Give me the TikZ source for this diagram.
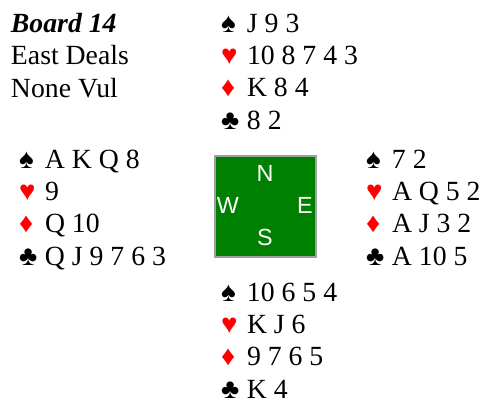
\documentclass[tikz,border=0pt]{standalone}
\usepackage{fontspec}
\setmainfont{Liberation Serif}
\setsansfont{Liberation Sans}
\definecolor{boardgreen}{RGB}{0,128,0}
\definecolor{boardedge}{RGB}{160,160,160}
\newcommand{\spd}{\makebox[19.5pt][l]{♠}}
\newcommand{\hrt}{\makebox[19.5pt][l]{\textcolor{red}{♥}}}
\newcommand{\dmd}{\makebox[19.5pt][l]{\textcolor{red}{♦}}}
\newcommand{\clb}{\makebox[19.5pt][l]{♣}}
\begin{document}
\begin{tikzpicture}[x=0.75pt, y=-0.75pt,
  hand/.style={anchor=base west, inner sep=0, outer sep=0, align=left, font=\fontsize{20.8}{24.2}\selectfont},
  compass/.style={inner sep=0, outer sep=0, text=white, font=\sffamily\fontsize{17.5}{21}\selectfont}]
  \useasboundingbox (0,0) rectangle (484,400);

  \draw (265.5,206.5) node [draw=boardedge, line width=1.5pt, fill=boardgreen, inner sep=0, minimum size=75.75pt] (board) {};

  \draw (265,173) node [compass] (n) {N};
  \draw (228,205) node [compass] (w) {W};
  \draw (305,205) node [compass] (e) {E};
  \draw (265,237) node [compass] (s) {S};

  \draw (11,97) node [hand] (info) {\textbf{\textit{Board 14}}\\East Deals\\None Vul};

  \draw (221,129) node [hand] (north) {\spd J 9 3\\\hrt 10 8 7 4 3\\\dmd K 8 4\\\clb 8 2};

  \draw (19,265) node [hand] (west) {\spd A K Q 8\\\hrt 9\\\dmd Q 10\\\clb Q J 9 7 6 3};

  \draw (366,265) node [hand] (east) {\spd 7 2\\\hrt A Q 5 2\\\dmd A J 3 2\\\clb A 10 5};

  \draw (221,398) node [hand] (south) {\spd 10 6 5 4\\\hrt K J 6\\\dmd 9 7 6 5\\\clb K 4};
\end{tikzpicture}
\end{document}
